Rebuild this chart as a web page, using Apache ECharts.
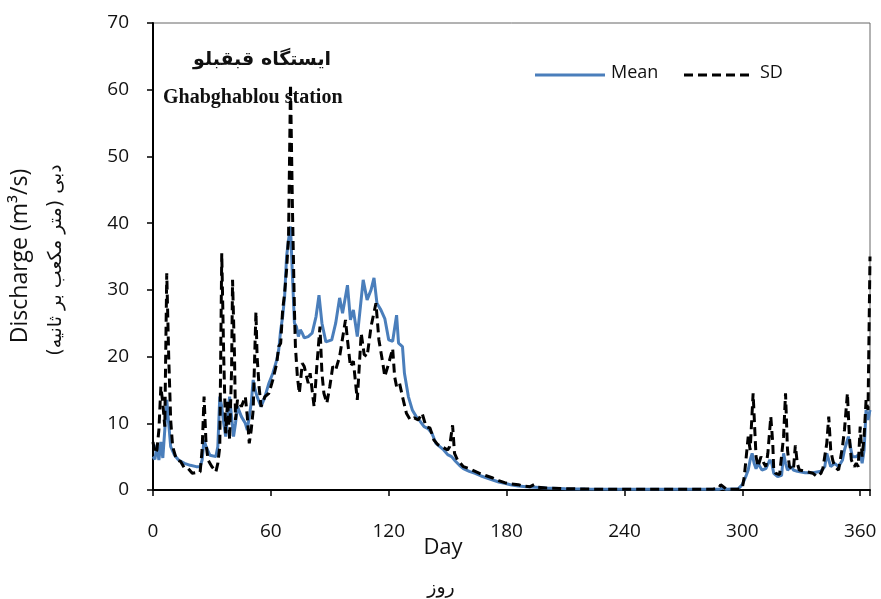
<!DOCTYPE html>
<html>
<head>
<meta charset="utf-8">
<script src="https://cdn.jsdelivr.net/npm/echarts@6/dist/echarts.min.js"></script>
<style>
  html, body { margin: 0; padding: 0; background: #fff; }
  #chart { width: 881px; height: 599px; }
</style>
</head>
<body>
<div id="chart"></div>
<script>
// Mean discharge (day, m3/s)
var meanDays = [0, 1, 2, 3, 4, 5, 6, 7, 8, 9, 11, 13, 16, 19, 22, 24, 25, 26, 27, 29, 32, 33, 34, 35, 36, 37, 38, 39, 40, 41, 42, 43, 45, 47, 48, 50, 51, 52, 53, 55, 57, 59, 61, 62, 63, 64, 65, 66, 67, 68, 69, 70, 71, 72, 73, 74, 75, 76, 77, 79, 81, 83, 84.5, 86, 88, 91, 93, 95, 96.5, 99, 100.5, 102, 104, 107, 109, 111, 112.5, 114, 116, 118, 120, 122, 124, 125, 127, 128, 130, 132, 134, 136, 138, 140, 142, 144, 146, 148, 150, 152, 154, 156, 158, 161, 164, 167, 170, 173, 176, 179, 182, 186, 190, 195, 200, 210, 220, 240, 260, 280, 288, 290, 292, 298, 300, 302, 303, 304, 305, 306, 307, 308, 309, 310, 312, 314, 315, 316, 318, 320, 321, 322, 323, 325, 326, 328, 332, 336, 340, 342, 343, 344, 345, 347, 349, 351, 352, 354, 355, 356, 358, 360, 361, 362, 363, 364, 365];
var meanVals = [5.0, 4.6, 6.8, 4.5, 7.2, 4.8, 9, 13.5, 10, 6.5, 5.2, 4.5, 4.0, 3.7, 3.5, 3.5, 4.5, 7.5, 6.5, 5.2, 5.0, 6.5, 14, 12.5, 10, 8, 11, 14, 11, 8, 10, 12.5, 11, 10, 9, 13, 16.5, 15, 14, 12.5, 14, 16, 17.5, 18.5, 19.5, 21, 24, 26, 29, 35, 37.5, 39.5, 32, 25, 24.5, 23, 24, 23.5, 22.8, 23, 23.5, 26, 29.2, 25, 22.2, 22.5, 25, 28.8, 26.5, 30.7, 25.5, 27, 23, 31.5, 28.5, 30, 31.8, 28, 27, 25.7, 22.5, 22.3, 26.2, 22, 21.5, 17.5, 14, 12, 11, 10.3, 9.5, 9.2, 8.5, 7.0, 6.5, 6.0, 5.3, 5.0, 4.3, 3.7, 3.2, 2.8, 2.5, 2.1, 1.8, 1.5, 1.2, 1.0, 0.8, 0.6, 0.5, 0.4, 0.3, 0.2, 0.15, 0.1, 0.1, 0.1, 0.1, 0.3, 0.1, 0.2, 0.8, 2.2, 3.0, 4.5, 5.5, 4.0, 3.2, 4.0, 3.5, 3.0, 3.2, 4.5, 4.0, 2.5, 2.0, 2.2, 5.5, 4.0, 3.0, 3.5, 3.0, 2.8, 2.6, 2.6, 2.8, 3.5, 5.5, 4.5, 3.5, 4.0, 3.5, 4.5, 6.0, 8.0, 6.5, 5.0, 5.0, 5.5, 4.0, 6.0, 12, 10.5, 12];

// Standard deviation (day, m3/s)
var sdDays = [0, 1, 2, 3, 4, 5, 6, 7, 8, 9, 10, 12, 14, 16, 18, 20, 22, 24, 25, 26, 27, 28, 30, 32, 33, 34, 35, 36, 37, 38, 39, 40, 40.5, 41.5, 42, 43, 45, 47, 48, 49, 50, 51, 52.4, 53, 54, 55, 57, 59, 61, 63, 64, 65, 66, 67, 68, 69, 70, 71, 72, 72.5, 73.5, 74.5, 76, 77, 79, 80, 82, 83.5, 85, 86, 87, 88.5, 90, 91.5, 93, 95, 98, 99, 100.5, 102, 104, 106, 107.5, 109, 111, 113.5, 115, 117, 118, 120, 122, 123, 124, 125.5, 127, 129, 131, 133, 135, 137, 139, 141, 143, 145, 147, 150, 151, 152.5, 153.5, 155, 158, 161, 164, 167, 170, 173, 176, 179, 182, 186, 188, 192, 194, 196, 200, 210, 230, 260, 285, 288, 289, 290, 292, 298, 300, 301, 302, 303, 304, 305.5, 306.5, 307, 308, 309.5, 311, 312, 313, 314.5, 315.5, 316, 317, 319, 321, 322, 323, 324, 326, 327, 328, 329, 332, 336, 338, 340, 341, 343, 344, 345, 346, 347, 349, 351, 352, 353.5, 354.5, 355.5, 357, 358, 359, 360, 361, 362, 363, 364, 365];
var sdVals = [7.2, 5.5, 6, 9, 15.5, 13, 9.5, 32.5, 20, 10.5, 6.5, 4.5, 4.3, 3.3, 3.2, 2.5, 2.6, 2.7, 6, 14, 7, 4.5, 3.5, 2.7, 4, 6.5, 35.5, 20, 8.5, 13.5, 7.5, 18, 31.5, 20, 10.5, 13.5, 12.5, 14, 11, 7.0, 9, 12, 26.7, 20, 15.5, 12.5, 14, 14.5, 16.5, 19, 21.5, 22, 27, 29.5, 33, 38, 60.8, 42, 27, 21.5, 17, 14.5, 19, 18.5, 16, 17.5, 12.5, 19, 24.5, 17.5, 14.5, 13, 15.5, 18.5, 18, 20, 25.5, 22.5, 18.5, 19.3, 13.5, 23.5, 20.3, 20, 24.5, 28, 22.5, 19, 17, 19, 21.2, 17, 15.5, 16, 14, 11.5, 10.5, 10.8, 10.5, 11.5, 9.5, 9.3, 7.5, 6.8, 6.5, 6.0, 6.5, 9.7, 5.5, 4.5, 3.5, 3.2, 2.8, 2.4, 2.1, 1.8, 1.4, 1.1, 0.9, 0.8, 0.6, 0.5, 0.8, 0.4, 0.3, 0.2, 0.1, 0.1, 0.1, 0.3, 0.8, 0.6, 0.1, 0.1, 0.3, 2, 5, 8, 6, 14.5, 8, 5, 3.5, 5, 4, 3.5, 5.5, 11, 7, 3, 2.5, 2.3, 8, 14.5, 6, 3.5, 3, 6.7, 4, 3, 2.8, 2.5, 2.0, 2.5, 3.2, 7, 11, 6, 4.5, 3.5, 3, 6.5, 9, 14.5, 8, 4.5, 3.5, 4, 3.5, 9.5, 5, 8, 13.5, 12, 35];

var xTicks = [0, 60, 120, 180, 240, 300, 360];

var meanColor = "#4a7ebb";
var sdDash = [9, 5];

function pairs(xs, ys) {
  return xs.map(function (x, i) { return [x, ys[i]]; });
}

var chart = echarts.init(document.getElementById("chart"));
var labelFont = "Open Sans";

var option = {
  animation: false,
  backgroundColor: "#fff",
  grid: {
    left: 153,
    right: 11,
    top: 23,
    bottom: 109,
    show: true,
    borderColor: "#666",
    borderWidth: 1
  },
  xAxis: {
    type: "value",
    min: 0,
    max: 365,
    interval: 60,
    axisLine: { onZero: false, lineStyle: { color: "#000", width: 2 } },
    axisTick: { show: true, length: 6, lineStyle: { color: "#000", width: 1.5 } },
    axisLabel: {
      margin: 32,
      fontFamily: labelFont,
      fontSize: 19,
      color: "#111",
      formatter: function (v) { return xTicks.indexOf(v) >= 0 ? String(v) : ""; }
    },
    splitLine: { show: false }
  },
  yAxis: {
    type: "value",
    min: 0,
    max: 70,
    interval: 10,
    axisLine: { show: true, lineStyle: { color: "#000", width: 2 } },
    axisTick: { show: true, length: 6, lineStyle: { color: "#000", width: 1.5 } },
    axisLabel: { margin: 24, fontFamily: labelFont, fontSize: 19, color: "#111" },
    splitLine: { show: false }
  },
  graphic: [
    // legend
    {
      type: "line", shape: { x1: 535, y1: 75, x2: 605, y2: 75 },
      style: { stroke: meanColor, lineWidth: 3 }
    },
    {
      type: "text", left: 611, top: 64,
      style: { text: "Mean", font: "18px " + labelFont, fill: "#111" }
    },
    {
      type: "line", shape: { x1: 684, y1: 75, x2: 752, y2: 75 },
      style: { stroke: "#000", lineWidth: 3, lineDash: sdDash }
    },
    {
      type: "text", left: 760, top: 64,
      style: { text: "SD", font: "18px " + labelFont, fill: "#111" }
    },
    // station title
    {
      type: "text", left: 193, top: 51,
      style: { text: "ایستگاه قبقبلو", font: "bold 19px 'DejaVu Sans'", fill: "#111" }
    },
    {
      type: "text", left: 163, top: 88,
      style: { text: "Ghabghablou station", font: "bold 20px 'Liberation Serif'", fill: "#111" }
    },
    // axis names
    {
      type: "text", x: 20, y: 256, rotation: Math.PI / 2,
      style: { text: "Discharge (m³/s)", font: "23px " + labelFont, fill: "#111", align: "center", verticalAlign: "middle" }
    },
    {
      type: "text", x: 56, y: 260, rotation: Math.PI / 2,
      style: { text: "دبی (متر مکعب بر ثانیه)", font: "19px 'DejaVu Sans'", fill: "#111", align: "center", verticalAlign: "middle" }
    },
    {
      type: "text", x: 443, y: 548,
      style: { text: "Day", font: "22px " + labelFont, fill: "#111", align: "center", verticalAlign: "middle" }
    },
    {
      type: "text", x: 441, y: 588,
      style: { text: "روز", font: "19px 'DejaVu Sans'", fill: "#111", align: "center", verticalAlign: "middle" }
    }
  ],
  series: [
    {
      name: "Mean",
      type: "line",
      data: pairs(meanDays, meanVals),
      showSymbol: false,
      symbol: "none",
      lineStyle: { color: meanColor, width: 3 },
      itemStyle: { color: meanColor },
      z: 2
    },
    {
      name: "SD",
      type: "line",
      data: pairs(sdDays, sdVals),
      showSymbol: false,
      symbol: "none",
      lineStyle: { color: "#000", width: 3, type: sdDash },
      itemStyle: { color: "#000" },
      z: 3
    }
  ]
};
chart.setOption(option);
</script>
</body>
</html>
